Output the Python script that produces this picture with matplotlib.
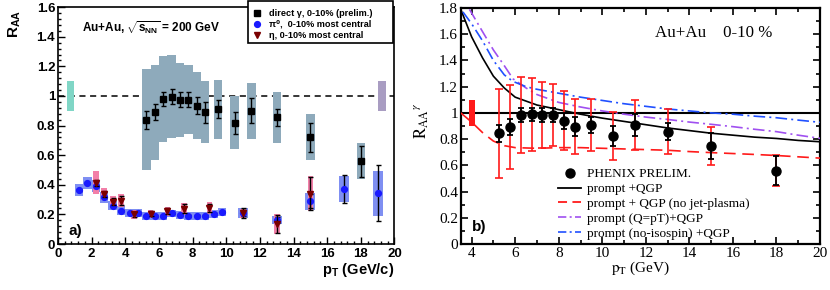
import matplotlib
matplotlib.use('Agg')
import matplotlib.pyplot as plt
from matplotlib.ticker import MultipleLocator, FuncFormatter
from matplotlib.lines import Line2D
from matplotlib.patches import Rectangle

# ---------------- panel a) data ----------------
gam_pt   = [5.25, 5.75, 6.25, 6.75, 7.25, 7.75, 8.25, 8.75, 9.5, 10.5, 11.5, 13, 15, 18]
gam_raa  = [0.84, 0.89, 0.98, 0.995, 0.975, 0.975, 0.935, 0.89, 0.91, 0.82, 0.90, 0.855, 0.72, 0.56]
gam_stat = [0.06, 0.055, 0.05, 0.05, 0.05, 0.05, 0.06, 0.07, 0.06, 0.075, 0.085, 0.06, 0.10, 0.105]
gam_sys  = [0.34, 0.32, 0.29, 0.28, 0.25, 0.235, 0.225, 0.21, 0.20, 0.18, 0.19, 0.17, 0.155, 0.12]

pi0_pt   = [1.25, 1.75, 2.25, 2.75, 3.25, 3.75, 4.25, 4.75, 5.25, 5.75, 6.25, 6.75, 7.25, 7.75,
            8.25, 8.75, 9.25, 9.75, 11, 13, 15, 17, 19]
pi0_raa  = [0.365, 0.41, 0.39, 0.315, 0.26, 0.225, 0.21, 0.21, 0.189, 0.187, 0.19, 0.207, 0.196, 0.189,
            0.189, 0.19, 0.20, 0.218, 0.207, 0.162, 0.29, 0.372, 0.343]
pi0_stat = [0.005, 0.005, 0.005, 0.005, 0.005, 0.005, 0.005, 0.005, 0.005, 0.005, 0.005, 0.005, 0.005, 0.005,
            0.005, 0.006, 0.007, 0.008, 0.02, 0.02, 0.05, 0.094, 0.19]
pi0_sys  = [0.04, 0.04, 0.04, 0.035, 0.03, 0.03, 0.028, 0.028, 0.026, 0.026, 0.026, 0.026, 0.026, 0.026,
            0.026, 0.026, 0.027, 0.028, 0.033, 0.028, 0.057, 0.09, 0.152]

eta_pt   = [2.25, 2.75, 3.25, 3.75, 4.5, 5.5, 6.5, 7.5, 9, 11, 13, 15]
eta_raa  = [0.415, 0.336, 0.286, 0.292, 0.2, 0.205, 0.22, 0.238, 0.243, 0.209, 0.135, 0.34]
eta_stat = [0.02, 0.02, 0.025, 0.03, 0.015, 0.015, 0.02, 0.03, 0.03, 0.035, 0.064, 0.11]
eta_sys  = [0.075, 0.04, 0.04, 0.045, 0.03, 0.022, 0.03, 0.04, 0.04, 0.03, 0.07, 0.12]

norm_center = 1.0
norm_unc_pi0 = 0.1
norm_unc_gam = 0.1

legend_a = ['direct γ, 0-10% (prelim.)', 'π⁰,  0-10% most central', 'η, 0-10% most central']

# ---------------- panel b) data ----------------
phx_pt   = [5.25, 5.75, 6.25, 6.75, 7.25, 7.75, 8.25, 8.75, 9.5, 10.5, 11.5, 13, 15, 18]
phx_raa  = [0.844, 0.895, 0.984, 0.989, 0.984, 0.984, 0.94, 0.895, 0.908, 0.824, 0.908, 0.857, 0.75, 0.56]
phx_stat = [0.064, 0.06, 0.05, 0.05, 0.05, 0.05, 0.06, 0.07, 0.06, 0.075, 0.085, 0.065, 0.1, 0.11]
phx_sys  = [0.34, 0.32, 0.29, 0.28, 0.25, 0.235, 0.225, 0.21, 0.20, 0.18, 0.19, 0.17, 0.145, 0.12]

qgp_pt   = [3.5, 4, 4.5, 5, 5.5, 6, 7, 8, 9, 10, 11, 12, 13, 14, 15, 16, 17, 18, 19, 20]
qgp_raa  = [1.79, 1.58, 1.42, 1.28, 1.19, 1.12, 1.06, 1.025, 0.99, 0.96, 0.935, 0.91, 0.885, 0.865,
            0.845, 0.83, 0.815, 0.805, 0.79, 0.78]
nojet_raa = [1.0, 0.93, 0.85, 0.785, 0.75, 0.735, 0.73, 0.735, 0.735, 0.73, 0.725, 0.72, 0.715, 0.705,
             0.697, 0.69, 0.683, 0.675, 0.665, 0.655]
qpt_pt   = [3.9, 4.5, 5, 5.5, 5.9, 6.5, 7, 8, 9, 10, 11, 12, 13, 14, 15, 16, 17, 18, 19, 20]
qpt_raa  = [1.79, 1.62, 1.48, 1.36, 1.26, 1.19, 1.14, 1.08, 1.045, 1.015, 0.99, 0.968, 0.95, 0.93,
            0.913, 0.895, 0.875, 0.857, 0.83, 0.806]
iso_pt   = [3.6, 4, 4.5, 5, 5.5, 5.9, 6.5, 7, 8, 9, 10, 11, 12, 13, 14, 15, 16, 17, 18, 19, 20]
iso_raa  = [1.77, 1.68, 1.55, 1.40, 1.29, 1.24, 1.2, 1.18, 1.15, 1.12, 1.095, 1.07, 1.05, 1.03, 1.015,
            1.0, 0.99, 0.975, 0.963, 0.945, 0.928]
norm_pt_b = 4.0
norm_unc_b = 0.1

legend_b = ["PHENIX PRELIM.", "prompt +QGP", "prompt + QGP (no jet-plasma)",
            "prompt (Q=pT)+QGP", "prompt (no-isospin) +QGP"]

# ---------------- style ----------------
plt.rcParams['mathtext.fontset'] = 'custom'
plt.rcParams['mathtext.rm'] = 'Liberation Sans:bold'
plt.rcParams['mathtext.it'] = 'Liberation Sans:bold'
plt.rcParams['mathtext.bf'] = 'Liberation Sans:bold'
plt.rcParams['mathtext.sf'] = 'Liberation Sans:bold'

SANS = dict(family='Liberation Sans', weight='bold')
SANS_FB = dict(family=['Liberation Sans', 'DejaVu Sans'], weight='bold')
SERIF = dict(family='Liberation Serif')

fig = plt.figure(figsize=(8.3, 2.9), dpi=100)
axL = fig.add_axes([0.0699, 0.1586, 0.4054, 0.8166])
axR = fig.add_axes([0.5551, 0.1586, 0.4329, 0.8138])

fmt = FuncFormatter(lambda v, p: '%g' % round(v, 3))

# ================= panel a =================
axL.axhline(norm_center, color='k', ls=(0, (4, 3)), lw=1.1, zorder=1)
axL.bar([0.75], [2 * norm_unc_pi0], bottom=norm_center - norm_unc_pi0, width=0.45,
        color='#80d6c6', lw=0, zorder=2)
axL.bar([19.25], [2 * norm_unc_gam], bottom=norm_center - norm_unc_gam, width=0.5,
        color='#a99dc2', lw=0, zorder=2)
axL.bar(gam_pt, [2 * s for s in gam_sys], bottom=[r - s for r, s in zip(gam_raa, gam_sys)],
        width=0.5, color='#8eaabb', lw=0, zorder=2)
pi0_w = [0.5 if p < 10 else 0.58 for p in pi0_pt]
axL.bar(pi0_pt, [2 * s for s in pi0_sys], bottom=[r - s for r, s in zip(pi0_raa, pi0_sys)],
        width=pi0_w, color='#7f8ff2', lw=0, zorder=3)
axL.bar(eta_pt, [2 * s for s in eta_sys], bottom=[r - s for r, s in zip(eta_raa, eta_sys)],
        width=0.34, color='#f27fa8', lw=0, zorder=4)

axL.errorbar(gam_pt, gam_raa, yerr=gam_stat, fmt='s', ms=3.8, color='k', ecolor='k',
             elinewidth=1.0, capsize=1.8, capthick=1.0, zorder=6)
axL.errorbar(pi0_pt, pi0_raa, yerr=pi0_stat, fmt='o', ms=4.2, color='#1a1aff', mec='#1a1aff',
             ecolor='k', elinewidth=1.0, capsize=1.8, capthick=1.0, zorder=5)
axL.errorbar(eta_pt, eta_raa, yerr=eta_stat, fmt='v', ms=4.2, color='#7a0000', mec='#7a0000',
             ecolor='k', elinewidth=1.0, capsize=1.8, capthick=1.0, zorder=7)

axL.set_xlim(0, 20)
axL.set_ylim(0, 1.6)
axL.xaxis.set_major_locator(MultipleLocator(2))
axL.xaxis.set_minor_locator(MultipleLocator(0.4))
axL.yaxis.set_major_locator(MultipleLocator(0.2))
axL.yaxis.set_minor_locator(MultipleLocator(0.04))
axL.xaxis.set_major_formatter(fmt)
axL.yaxis.set_major_formatter(fmt)
axL.tick_params(which='both', direction='in', top=False, right=False, width=1.0)
axL.tick_params(which='major', length=5)
axL.tick_params(which='minor', length=2.5)
axL.tick_params(axis='x', pad=3)
axL.tick_params(axis='y', pad=2)
for lab in axL.get_xticklabels() + axL.get_yticklabels():
    lab.set_fontproperties(dict(SANS, size=9.5))
for sp in axL.spines.values():
    sp.set_linewidth(1.2)

axL.text(-0.128, 0.99, r'$\mathbf{R_{AA}}$', transform=axL.transAxes, rotation=90,
         ha='center', va='top', fontsize=11)
axL.text(1.0, -0.11, r'$\mathbf{p_T}$ (GeV/c)', transform=axL.transAxes, ha='right',
         va='center', fontsize=10.5, **SANS)
axL.text(0.072, 0.915, r'Au+Au, $\sqrt{s_{NN}}$ = 200 GeV', transform=axL.transAxes,
         ha='left', va='center', fontsize=8.5, **SANS)
axL.text(0.03, 0.055, 'a)', transform=axL.transAxes, ha='left', va='center', fontsize=11, **SANS)

# legend frame (fixed-size box like the original) and entries
axL.add_patch(Rectangle((0.565, 0.849), 0.4305, 0.177, transform=axL.transAxes, fill=True,
                        facecolor='white', edgecolor='k', lw=1.2, clip_on=False, zorder=9))
hL = [Line2D([], [], marker='s', ls='none', color='k', ms=3.8),
      Line2D([], [], marker='o', ls='none', color='#1a1aff', ms=4.2),
      Line2D([], [], marker='v', ls='none', color='#7a0000', ms=4.2)]
legL = axL.legend(hL, legend_a, loc='upper left', bbox_to_anchor=(0.578, 0.992), borderaxespad=0,
                  prop=dict(SANS_FB, size=6.6), frameon=False, handlelength=1.0,
                  handletextpad=0.85, labelspacing=0.2, borderpad=0)
legL.set_zorder(10)

# ================= panel b =================
axR.axhline(1.0, color='k', lw=1.5, zorder=1)
axR.bar([norm_pt_b], [2 * norm_unc_b], bottom=1.0 - norm_unc_b, width=0.28,
        color='#ff1a1a', lw=0, zorder=2)
axR.plot(qgp_pt, qgp_raa, color='k', lw=1.2, zorder=3)
axR.plot(qgp_pt, nojet_raa, color='#ff1a1a', lw=1.2, ls=(0, (7, 4)), zorder=3)
axR.plot(qpt_pt, qpt_raa, color='#a050f0', lw=1.2, ls=(0, (7, 2.5, 1.2, 2.5)), zorder=3)
axR.plot(iso_pt, iso_raa, color='#2050ff', lw=1.2, ls=(0, (7, 2.5, 1.2, 2.5)), zorder=3)

axR.errorbar(phx_pt, phx_raa, yerr=phx_sys, fmt='none', ecolor='#ff1a1a', elinewidth=1.2,
             capsize=3.0, capthick=1.2, zorder=4)
axR.errorbar(phx_pt, phx_raa, yerr=phx_stat, fmt='o', ms=6.5, color='k', ecolor='k',
             elinewidth=1.3, capsize=2.5, capthick=1.3, zorder=5)

axR.set_xlim(3.5, 20)
axR.set_ylim(0, 1.8)
axR.xaxis.set_major_locator(MultipleLocator(2))
axR.xaxis.set_minor_locator(MultipleLocator(1))
axR.yaxis.set_major_locator(MultipleLocator(0.2))
axR.yaxis.set_minor_locator(MultipleLocator(0.1))
axR.xaxis.set_major_formatter(fmt)
axR.yaxis.set_major_formatter(fmt)
axR.tick_params(which='both', direction='in', top=True, right=True, width=1.2)
axR.tick_params(which='major', length=5)
axR.tick_params(which='minor', length=3)
axR.tick_params(axis='x', pad=2)
axR.tick_params(axis='y', pad=2)
for lab in axR.get_xticklabels() + axR.get_yticklabels():
    lab.set_fontproperties(dict(SERIF, size=11))
for sp in axR.spines.values():
    sp.set_linewidth(1.6)

axR.text(0.5, -0.102, r'$\mathrm{p_T}$ (GeV)', transform=axR.transAxes, ha='center',
         va='center', fontsize=11, math_fontfamily='stix', **SERIF)
axR.text(-0.108, 0.52, r'$\mathrm{R_{AA}}{}^{\gamma}$', transform=axR.transAxes, rotation=90,
         ha='center', va='center', fontsize=12, math_fontfamily='stix', **SERIF)
axR.text(0.866, 0.892, 'Au+Au    0-10 %', transform=axR.transAxes, ha='right', va='center',
         fontsize=12.2, **SERIF)
axR.text(0.03, 0.07, 'b)', transform=axR.transAxes, ha='left', va='center', fontsize=11, **SANS)

hR = [Line2D([], [], marker='o', ls='none', color='k', ms=6.5),
      Line2D([], [], color='k', lw=1.3),
      Line2D([], [], color='#ff1a1a', lw=1.3, ls=(0, (5, 3))),
      Line2D([], [], color='#a050f0', lw=1.2, ls=(0, (5, 2, 1.2, 2))),
      Line2D([], [], color='#2050ff', lw=1.2, ls=(0, (5, 2, 1.2, 2)))]
legR = axR.legend(hR, legend_b, loc='lower left', bbox_to_anchor=(0.272, 0.018), borderaxespad=0,
                  prop=dict(SERIF, size=9.5), frameon=False, handlelength=1.7,
                  handletextpad=0.5, labelspacing=0.2, borderpad=0)

fig.savefig('out.png', dpi=100)
